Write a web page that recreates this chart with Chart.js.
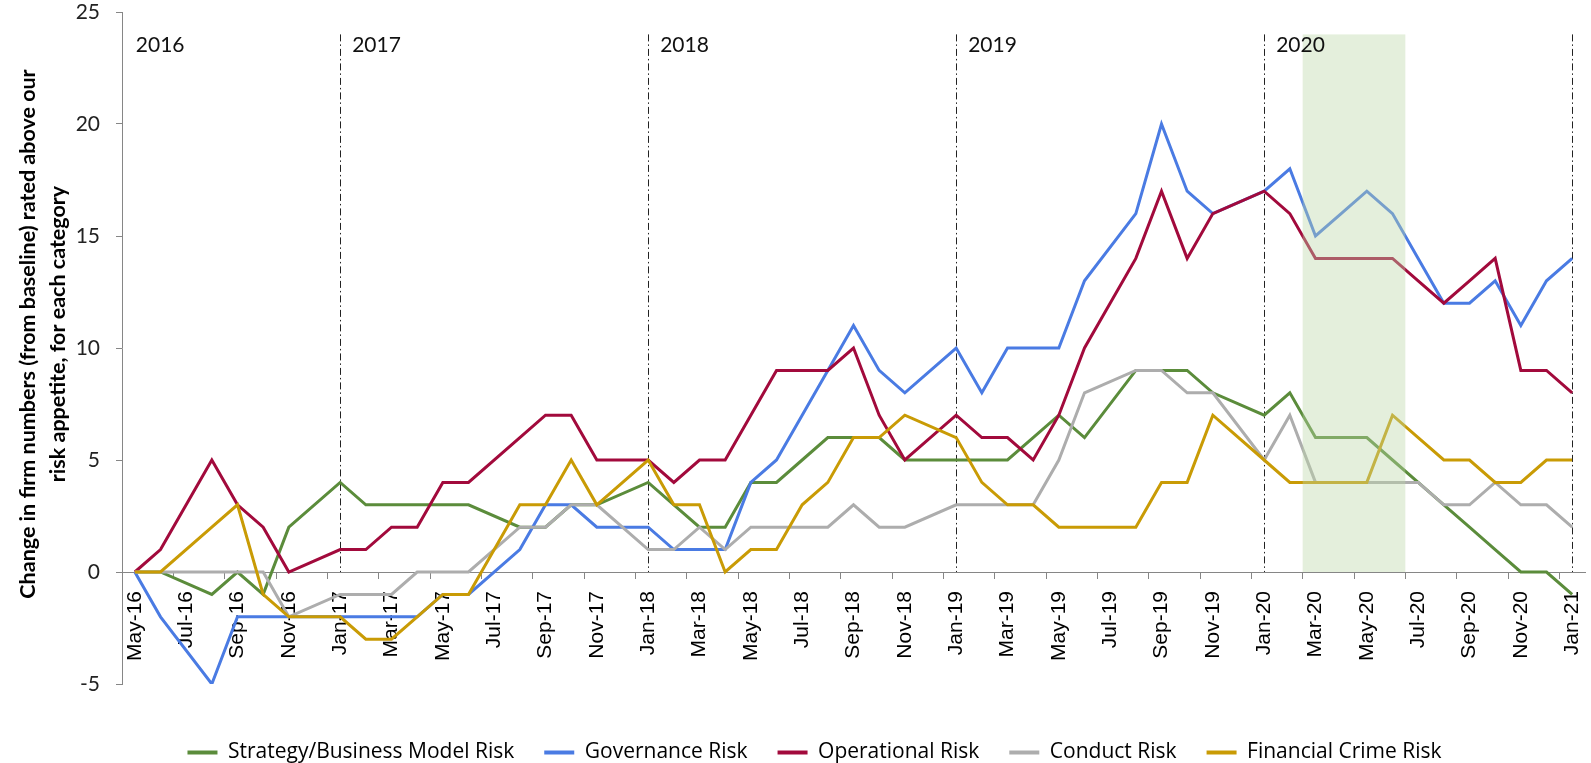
<!DOCTYPE html>
<html>
<head>
<meta charset="utf-8">
<script src="https://cdn.jsdelivr.net/npm/chart.js@4.4.0/dist/chart.umd.min.js"></script>
<style>
  html, body { margin: 0; padding: 0; background: #ffffff; }
  #wrap { width: 1591px; height: 763px; position: relative; }
</style>
</head>
<body>
<div id="wrap"><canvas id="chart"></canvas></div>
<script>
// ---- Categories (monthly) ----
const months = [
  'May-16','Jun-16','Jul-16','Aug-16','Sep-16','Oct-16','Nov-16','Dec-16',
  'Jan-17','Feb-17','Mar-17','Apr-17','May-17','Jun-17','Jul-17','Aug-17','Sep-17','Oct-17','Nov-17','Dec-17',
  'Jan-18','Feb-18','Mar-18','Apr-18','May-18','Jun-18','Jul-18','Aug-18','Sep-18','Oct-18','Nov-18','Dec-18',
  'Jan-19','Feb-19','Mar-19','Apr-19','May-19','Jun-19','Jul-19','Aug-19','Sep-19','Oct-19','Nov-19','Dec-19',
  'Jan-20','Feb-20','Mar-20','Apr-20','May-20','Jun-20','Jul-20','Aug-20','Sep-20','Oct-20','Nov-20','Dec-20',
  'Jan-21'
];

// ---- Series values (null = no observation that month; line spans the gap) ----
const strategyRisk = [
  0, 0, null, -1, 0, -1, 2, null,
  4, 3, 3, 3, 3, 3, null, 2, 2, 3, 3, null,
  4, 3, 2, 2, 4, 4, 5, 6, 6, 6, 5, null,
  5, 5, 5, 6, 7, 6, null, 9, 9, 9, 8, null,
  7, 8, 6, 6, 6, 5, 4, 3, 2, 1, 0, 0,
  -1
];
const governanceRisk = [
  0, -2, null, -5, -2, -2, -2, null,
  -2, -2, -2, -2, -1, -1, null, 1, 3, 3, 2, null,
  2, 1, 1, 1, 4, 5, 7, 9, 11, 9, 8, null,
  10, 8, 10, 10, 10, 13, null, 16, 20, 17, 16, null,
  17, 18, 15, 16, 17, 16, 14, 12, 12, 13, 11, 13,
  14
];
const operationalRisk = [
  0, 1, null, 5, 3, 2, 0, null,
  1, 1, 2, 2, 4, 4, null, 6, 7, 7, 5, null,
  5, 4, 5, 5, 7, 9, 9, 9, 10, 7, 5, null,
  7, 6, 6, 5, 7, 10, null, 14, 17, 14, 16, null,
  17, 16, 14, 14, 14, 14, 13, 12, 13, 14, 9, 9,
  8
];
const conductRisk = [
  0, 0, null, 0, 0, 0, -2, null,
  -1, -1, -1, 0, 0, 0, null, 2, 2, 3, 3, null,
  1, 1, 2, 1, 2, 2, 2, 2, 3, 2, 2, null,
  3, 3, 3, 3, 5, 8, null, 9, 9, 8, 8, null,
  5, 7, 4, 4, 4, 4, 4, 3, 3, 4, 3, 3,
  2
];
const financialCrimeRisk = [
  0, 0, null, 2, 3, -1, -2, null,
  -2, -3, -3, -2, -1, -1, null, 3, 3, 5, 3, null,
  5, 3, 3, 0, 1, 1, 3, 4, 6, 6, 7, null,
  6, 4, 3, 3, 2, 2, null, 2, 4, 4, 7, null,
  5, 4, 4, 4, 4, 7, 6, 5, 5, 4, 4, 5,
  5
];

const seriesNames = ['Strategy/Business Model Risk', 'Governance Risk', 'Operational Risk', 'Conduct Risk', 'Financial Crime Risk'];
const seriesColors = ['#5b8c3b', '#4a7be3', '#a20a3c', '#adadad', '#c99b05'];

// ---- Y axis ticks ----
const yMin = -5, yMax = 25, yStep = 5;

// ---- Annotations ----
const yearLabels = ['2016', '2017', '2018', '2019', '2020'];
const yearLabelMonths = ['May-16', 'Jan-17', 'Jan-18', 'Jan-19', 'Jan-20'];
const yearLineMonths = ['Jan-17', 'Jan-18', 'Jan-19', 'Jan-20', 'Jan-21'];
const shadeStart = 'Mar-20', shadeEnd = 'Jun-20';
const annotationTop = 24;   // value where dashed lines / shading start
const yearLabelLevel = 23.5;

const yTitle = ['Change in firm numbers (from baseline) rated above our', 'risk appetite, for each category'];

const FONT = 'Lato, "Liberation Sans", sans-serif';

const annotations = {
  id: 'annotations',
  beforeDatasetsDraw(chart) {
    const {ctx, scales: {x, y}} = chart;
    ctx.save();
    ctx.strokeStyle = '#222';
    ctx.lineWidth = 1;
    ctx.setLineDash([7, 3, 1.5, 3]);
    yearLineMonths.forEach(m => {
      const px = Math.round(x.getPixelForValue(months.indexOf(m))) + 0.5;
      ctx.beginPath();
      ctx.moveTo(px, y.getPixelForValue(annotationTop));
      ctx.lineTo(px, y.getPixelForValue(0));
      ctx.stroke();
    });
    ctx.restore();
  },
  afterDatasetsDraw(chart) {
    const {ctx, scales: {x, y}} = chart;
    ctx.save();
    // shaded period
    const half = (x.getPixelForValue(1) - x.getPixelForValue(0)) / 2;
    const x0 = x.getPixelForValue(months.indexOf(shadeStart)) - half;
    const x1 = x.getPixelForValue(months.indexOf(shadeEnd)) + half;
    const yT = y.getPixelForValue(annotationTop), yB = y.getPixelForValue(0);
    ctx.fillStyle = 'rgba(188, 216, 168, 0.40)';
    ctx.fillRect(x0, yT, x1 - x0, yB - yT);
    // year labels
    ctx.fillStyle = '#111';
    ctx.font = '21px ' + FONT;
    ctx.textAlign = 'left';
    ctx.textBaseline = 'middle';
    yearLabels.forEach((t, i) => {
      const idx = months.indexOf(yearLabelMonths[i]);
      const px = x.getPixelForValue(idx) + (i === 0 ? 1 : 12);
      ctx.fillText(t, px, y.getPixelForValue(yearLabelLevel));
    });
    // y axis title
    ctx.fillStyle = '#000';
    ctx.font = 'bold 21.5px ' + FONT;
    ctx.textAlign = 'center';
    ctx.textBaseline = 'middle';
    const cy = 334;
    [28, 58].forEach((cx, i) => {
      ctx.save();
      ctx.translate(cx, cy);
      ctx.rotate(-Math.PI / 2);
      ctx.fillText(yTitle[i], 0, 0);
      ctx.restore();
    });
    ctx.restore();
  }
};

const dataArrays = [strategyRisk, governanceRisk, operationalRisk, conductRisk, financialCrimeRisk];

new Chart(document.getElementById('chart'), {
  type: 'line',
  data: {
    labels: months,
    datasets: dataArrays.map((arr, i) => ({
      label: seriesNames[i],
      data: arr,
      borderColor: seriesColors[i],
      backgroundColor: seriesColors[i],
      borderWidth: 3,
      pointRadius: 0,
      pointHoverRadius: 0,
      tension: 0,
      spanGaps: true,
      fill: false,
      order: dataArrays.length - 1 - i
    }))
  },
  options: {
    responsive: true,
    maintainAspectRatio: false,
    animation: false,
    layout: { padding: { left: 44, right: 6, top: 0, bottom: 0 } },
    plugins: {
      tooltip: { enabled: false },
      legend: {
        position: 'bottom',
        maxHeight: 79,
        title: { display: true, text: ' ', padding: 0, font: { size: 28, lineHeight: 1 } },
        labels: {
          boxWidth: 30,
          boxHeight: 4,
          padding: 30,
          color: '#000',
          font: { family: '"Open Sans", sans-serif', size: 21 },
          generateLabels(chart) {
            const items = Chart.defaults.plugins.legend.labels.generateLabels(chart);
            items.sort((a, b) => a.datasetIndex - b.datasetIndex);
            items.forEach(it => { it.fillStyle = it.strokeStyle; it.lineWidth = 0; });
            return items;
          }
        }
      }
    },
    scales: {
      x: {
        type: 'category',
        position: { y: 0 },
        offset: true,
        afterFit(scale) { scale.height = 0; scale.paddingLeft = 0; scale.paddingRight = 0; },
        grid: {
          offset: true,
          drawOnChartArea: false,
          drawTicks: true,
          tickLength: 6,
          color: ctx => (ctx.index % 2 === 0 ? '#868686' : 'rgba(0,0,0,0)')
        },
        border: { display: true, color: '#868686', width: 1 },
        ticks: {
          autoSkip: false,
          maxRotation: 90,
          minRotation: 90,
          padding: 13,
          color: '#000',
          font: { family: '"Liberation Sans", Arial, sans-serif', size: 21 },
          callback: (v, i) => (i % 2 === 0 ? months[i] : '')
        }
      },
      y: {
        min: yMin,
        max: yMax,
        afterFit(scale) { scale.width = 78; scale.paddingTop = 12; scale.paddingBottom = 12; },
        grid: { drawOnChartArea: false, drawTicks: true, tickLength: 6, color: '#868686' },
        border: { display: true, color: '#868686', width: 1 },
        ticks: {
          stepSize: yStep,
          padding: 16,
          color: '#222',
          font: { family: FONT, size: 21 }
        }
      }
    }
  },
  plugins: [annotations]
});
</script>
</body>
</html>
